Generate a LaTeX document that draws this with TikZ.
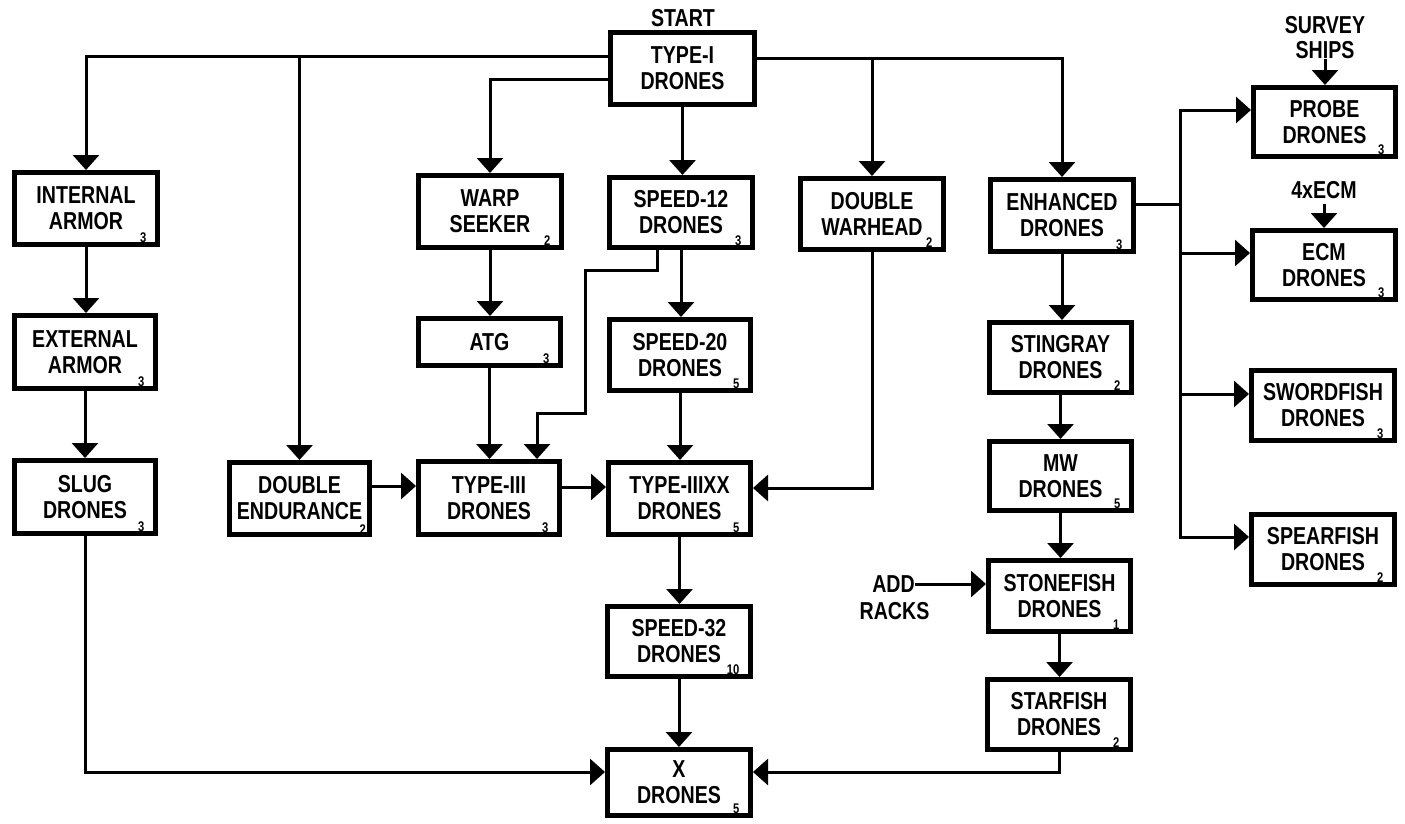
\documentclass[tikz,border=0pt]{standalone}
\usepackage{fontspec}
\setmainfont{Liberation Sans}[FakeStretch=0.8]
\usetikzlibrary{arrows.meta,calc}
\tikzset{
  box/.style={draw, line width=5pt, inner sep=0pt, align=center,
              font=\fontsize{24.5}{26}\selectfont\bfseries},
  subn/.style={anchor=base east, inner sep=0pt, font=\fontsize{14}{14}\selectfont\bfseries},
  lbl/.style={inner sep=0pt, align=center, font=\fontsize{24.5}{25}\selectfont\bfseries},
  conn/.style={line width=3pt},
  arr/.style={conn, -{Triangle[width=26pt,length=15pt]}},
}
\newcommand\myboxonly[6]{%
  \pgfmathsetmacro\cx{(#2+#4)/2}%
  \pgfmathsetmacro\cy{(#3+#5)/2}%
  \pgfmathsetmacro\bw{#4-#2-5}%
  \pgfmathsetmacro\bh{#5-#3-5}%
  \node[box, minimum width=\bw pt, minimum height=\bh pt] (#1) at (\cx,\cy) {#6};}
\newcommand\mybox[7]{%
  \myboxonly{#1}{#2}{#3}{#4}{#5}{#6}%
  \node[subn] (#1-n) at ($(#1.south east)+(-13.5,-4.5)$) {#7};}
\begin{document}
\begin{tikzpicture}[x=1pt,y=-1pt]
\useasboundingbox (0,0) rectangle (1405,823);
% top box
\myboxonly{t1}{608}{30}{757}{107}{TYPE-I\\DRONES}
\node[lbl] (start) at (683,18.5) {START};
% boxes
\mybox{ia}{12}{170}{160}{247}{INTERNAL\\ARMOR}{3}
\mybox{ws}{416}{173}{564}{250}{WARP\\SEEKER}{2}
\mybox{s12}{607}{175}{755}{250}{SPEED-12\\DRONES}{3}
\mybox{dw}{798}{176}{946}{252}{DOUBLE\\WARHEAD}{2}
\mybox{en}{988}{177}{1136}{254}{ENHANCED\\DRONES}{3}
\mybox{pr}{1251}{85}{1398}{159}{PROBE\\DRONES}{3}
\mybox{ecm}{1250}{228}{1398}{302}{ECM\\DRONES}{3}
\mybox{ea}{12}{313}{158}{391}{EXTERNAL\\ARMOR}{3}
\mybox{atg}{416}{316}{563}{368}{ATG}{3}
\mybox{s20}{607}{317}{753}{393}{SPEED-20\\DRONES}{5}
\mybox{st}{987}{320}{1134}{395}{STINGRAY\\DRONES}{2}
\mybox{sw}{1249}{368}{1397}{443}{SWORDFISH\\DRONES}{3}
\mybox{slug}{12}{458}{158}{536}{SLUG\\DRONES}{3}
\myboxonly{de}{227}{460}{372}{537}{DOUBLE\\ENDURANCE}
\node[subn] (de-n) at ($(de.south east)+(-6,-2.5)$) {2};
\mybox{t3}{416}{459}{562}{537}{TYPE-III\\DRONES}{3}
\mybox{t3x}{606}{460}{753}{537}{TYPE-IIIXX\\DRONES}{5}
\mybox{mw}{987}{439}{1134}{513}{MW\\DRONES}{5}
\mybox{sp}{1249}{512}{1397}{587}{SPEARFISH\\DRONES}{2}
\mybox{ston}{986}{558}{1133}{634}{STONEFISH\\DRONES}{1}
\mybox{s32}{605}{604}{753}{679}{SPEED-32\\DRONES}{10}
\mybox{sf}{985}{677}{1133}{752}{STARFISH\\DRONES}{2}
\mybox{x}{605}{747}{753}{818}{X\\DRONES}{5}
% free labels
\node[lbl] (surv) at (1325,37.5) {SURVEY\\SHIPS};
\node[lbl] (ecmt) at (1324,190) {4xECM};
\node[lbl] (add) at (893.5,584) {ADD};
\node[lbl] (racks) at (894.5,611) {RACKS};
% helper coordinates
\coordinate (yl1) at (0,56);
\coordinate (yl2) at (0,79);
\coordinate (yr) at (0,58);
\coordinate (q1) at (657,270);
\coordinate (q2) at (585,413);
\coordinate (q3) at (537,0);
\coordinate (yd) at (0,488);
\coordinate (ye) at (0,486);
\coordinate (yt) at (0,487);
\coordinate (yb) at (0,772);
\coordinate (br) at (1180,204);
\coordinate (b1) at (1180,110);
\coordinate (b2) at (1180,253);
\coordinate (b3) at (1180,394);
\coordinate (b4) at (1180,537);
% connectors from TYPE-I
\draw[arr] (yl1 -| t1.west) -| (ia.north);
\draw[arr] (yl1 -| de.north) -- (de.north);
\draw[arr] (yl2 -| t1.west) -| (ws.north);
\draw[arr] (t1.south) -- (t1.south |- s12.north);
\draw[arr] (yr -| t1.east) -| (en.north);
\draw[arr] (yr -| dw.north) -- (dw.north);
% middle
\draw[arr] (ws.south) -- (ws.south |- atg.north);
\draw[arr] (atg.south) -- (atg.south |- t3.north);
\draw[arr] (s12.south -| q1) -- (q1) -- (q1 -| q2) -- (q2) -- (q2 -| q3) -- (q3 |- t3.north);
\draw[arr] (s12.south) -- (s12.south |- s20.north);
\draw[arr] (s20.south) -- (s20.south |- t3x.north);
\draw[arr] (dw.south) |- (yd -| t3x.east);
\draw[arr] (ye -| de.east) -- (ye -| t3.west);
\draw[arr] (yt -| t3.east) -- (yt -| t3x.west);
\draw[arr] (t3x.south) -- (t3x.south |- s32.north);
\draw[arr] (s32.south) -- (s32.south |- x.north);
% left column
\draw[arr] (ia.south) -- (ia.south |- ea.north);
\draw[arr] (ea.south) -- (ea.south |- slug.north);
\draw[arr] (slug.south) |- (yb -| x.west);
% right-middle column
\draw[arr] (en.south) -- (en.south |- st.north);
\draw[arr] (st.south) -- (st.south |- mw.north);
\draw[arr] (mw.south) -- (mw.south |- ston.north);
\draw[arr] (ston.south) -- (ston.south |- sf.north);
\draw[arr] (sf.south) |- (yb -| x.east);
\draw[arr] (add.east) -- (add.east -| ston.west);
% right branches
\draw[conn] (br -| en.east) -- (br);
\draw[arr] (b2) -- (b1) -- (b1 -| pr.west);
\draw[arr] (b2) -- (b2 -| ecm.west);
\draw[conn] (b2) -- (b3);
\draw[arr] (b3) -- (b3 -| sw.west);
\draw[arr] (b3) -- (b4) -- (b4 -| sp.west);
\draw[arr] (surv.south) -- (surv.south |- pr.north);
\draw[arr] ($(ecmt.south)+(0,5)$) -- (ecmt.south |- ecm.north);
\end{tikzpicture}
\end{document}
